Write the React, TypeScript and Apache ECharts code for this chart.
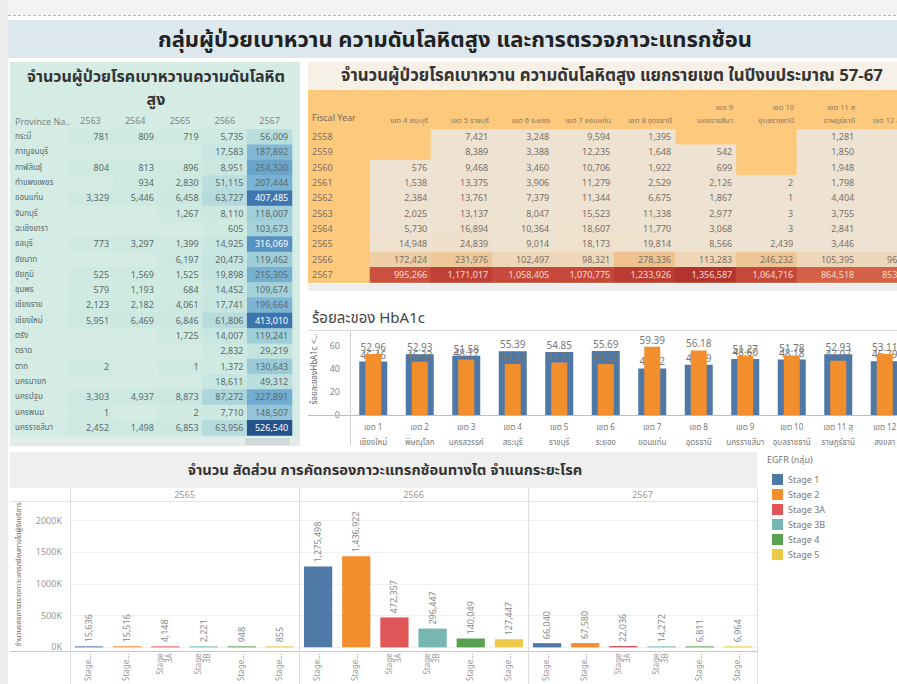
import React, { useEffect, useRef } from "react";
import * as echarts from "echarts";

const FONT = "'Noto Sans Thai', 'Noto Sans Thai UI', 'Leelawadee UI', Tahoma, 'Noto Sans', sans-serif";

// ---------- left table: patients by province ----------
const provinceNames = ["กระบี่", "กาญจนบุรี", "กาฬสินธุ์", "กำแพงเพชร", "ขอนแก่น", "จันทบุรี", "ฉะเชิงเทรา", "ชลบุรี", "ชัยนาท", "ชัยภูมิ", "ชุมพร", "เชียงราย", "เชียงใหม่", "ตรัง", "ตราด", "ตาก", "นครนายก", "นครปฐม", "นครพนม", "นครราชสีมา"];
const provinceYears = ["2563", "2564", "2565", "2566", "2567"];
const prov2563 = [781, null, 804, null, 3329, null, null, 773, null, 525, 579, 2123, 5951, null, null, 2, null, 3303, 1, 2452];
const prov2564 = [809, null, 813, 934, 5446, null, null, 3297, null, 1569, 1193, 2182, 6469, null, null, null, null, 4937, null, 1498];
const prov2565 = [719, null, 896, 2830, 6458, 1267, null, 1399, 6197, 1525, 684, 4061, 6846, 1725, null, 1, null, 8873, 2, 6853];
const prov2566 = [5735, 17583, 8951, 51115, 63727, 8110, 605, 14925, 20473, 19898, 14452, 17741, 61806, 14007, 2832, 1372, 18611, 87272, 7710, 63956];
const prov2567 = [56009, 187892, 254320, 207444, 407485, 118007, 103673, 316069, 119462, 215305, 109674, 199664, 413010, 119241, 29219, 130643, 49312, 227891, 148507, 526540];

// ---------- right table: patients by health region ----------
const fiscalYears = ["2558", "2559", "2560", "2561", "2562", "2563", "2564", "2565", "2566", "2567"];
const regionHeaders = ["เขต 4 สระบุรี", "เขต 5 ราชบุรี", "เขต 6 ระยอง", "เขต 7 ขอนแก่น", "เขต 8 อุดรธานี", "เขต 9\nนครราชสีมา", "เขต 10\nอุบลราชธานี", "เขต 11 สุ\nราษฎร์ธานี", "เขต 12 สงขลา"];
const region4 = [null, null, 576, 1538, 2384, 2025, 5730, 14948, 172424, 995266];
const region5 = [7421, 8389, 9468, 13375, 13761, 13137, 16894, 24839, 231976, 1171017];
const region6 = [3248, 3388, 3460, 3906, 7379, 8047, 10364, 9014, 102497, 1058405];
const region7 = [9594, 12235, 10706, 11279, 11344, 15523, 18607, 18173, 98321, 1070775];
const region8 = [1395, 1648, 1922, 2529, 6675, 11338, 11770, 19814, 278336, 1233926];
const region9 = [null, 542, 699, 2126, 1867, 2977, 3068, 8566, 113283, 1356587];
const region10 = [null, null, null, 2, 1, 3, 3, 2439, 246232, 1064716];
const region11 = [1281, 1850, 1948, 1798, 4404, 3755, 2841, 3446, 105395, 864518];
const region12 = [312, 405, 468, 520, 611, 702, 745, 880, 96400, 853200];

// ---------- HbA1c ----------
const hbRegions = ["เขต 1\nเชียงใหม่", "เขต 2\nพิษณุโลก", "เขต 3\nนครสวรรค์", "เขต 4\nสระบุรี", "เขต 5\nราชบุรี", "เขต 6\nระยอง", "เขต 7\nขอนแก่น", "เขต 8\nอุดรธานี", "เขต 9\nนครราชสีมา", "เขต 10\nอุบลราชธานี", "เขต 11 สุ\nราษฎร์ธานี", "เขต 12\nสงขลา"];
const hbBlue = [46.46, 52.93, 51.58, 55.39, 54.85, 55.69, 40.52, 43.69, 48.6, 48.18, 52.93, 46.79];
const hbOrange = [52.96, 46.33, 48.17, 44.33, 45.61, 44.29, 59.39, 56.18, 51.27, 51.78, 47.07, 53.11];
const hbTicks = [0, 20, 40, 60];

// ---------- kidney screening by stage ----------
const stageNames = ["Stage 1", "Stage 2", "Stage 3A", "Stage 3B", "Stage 4", "Stage 5"];
const stageTickLabels = ["Stage...", "Stage...", "Stage\n3A", "Stage\n3B", "Stage...", "Stage..."];
const stageColors = ["#4e79a7", "#f28e2b", "#e15759", "#76b7b2", "#59a14f", "#edc948"];
const facetYears = ["2565", "2566", "2567"];
const screening2565 = [15636, 15516, 4148, 2221, 948, 855];
const screening2566 = [1275498, 1436922, 472357, 296447, 140049, 127447];
const screening2567 = [66040, 67580, 22036, 14272, 6811, 6964];

const fmt = (v: number) => Number(v).toLocaleString("en-US");

function txt(text: string, x: number, y: number, size: number, opts: any = {}) {
  return {
    type: "text",
    x,
    y,
    z: 100,
    style: {
      text,
      fontSize: size,
      fontWeight: opts.bold ? "bold" : "normal",
      fontFamily: FONT,
      fill: opts.color || "#333",
      align: opts.align || "center",
      textAlign: opts.align || "center",
      verticalAlign: "middle",
      textVerticalAlign: "middle",
    },
  };
}
function rect(x: number, y: number, w: number, h: number, fill: string) {
  return { type: "rect", shape: { x, y, width: w, height: h }, style: { fill }, z: 0, silent: true };
}
function line(x1: number, y1: number, x2: number, y2: number, stroke: string, dash?: number[]) {
  return { type: "line", shape: { x1, y1, x2, y2 }, style: { stroke, lineWidth: 1, lineDash: dash }, z: 50, silent: true };
}

function buildOption() {
  const leftCols = [prov2563, prov2564, prov2565, prov2566, prov2567];
  const leftData: any[] = [];
  leftCols.forEach((col, x) =>
    col.forEach((v, y) => {
      if (v != null) leftData.push({ value: [x, y, v], label: { color: v > 290000 ? "#ffffff" : "#5b6a6a" } });
    })
  );
  const rightCols = [region4, region5, region6, region7, region8, region9, region10, region11, region12];
  const rightData: any[] = [];
  rightCols.forEach((col, x) =>
    col.forEach((v, y) => {
      if (v != null) rightData.push({ value: [x, y, v], label: { color: v > 600000 ? "#f9dccd" : "#7a7068" } });
    })
  );

  const facetData = [screening2565, screening2566, screening2567];
  const facetLeft = [70, 299, 528];
  const facetWidth = 229;

  const stageSeries: any[] = [];
  facetData.forEach((vals, f) => {
    stageNames.forEach((name, s) => {
      stageSeries.push({
        type: "bar",
        name,
        xAxisIndex: 4 + f,
        yAxisIndex: 3 + f,
        stack: "facet" + f,
        barWidth: "74%",
        barMinHeight: 1,
        itemStyle: { color: stageColors[s] },
        data: stageNames.map((_, i) => (i === s ? vals[i] : null)),
        label: {
          show: true,
          position: "top",
          rotate: 90,
          align: "left",
          verticalAlign: "middle",
          distance: 4,
          fontSize: 9,
          color: "#8a8a8a",
          fontFamily: FONT,
          formatter: (p: any) => fmt(p.value),
        },
      });
    });
  });

  const hiddenAxis = { axisLine: { show: false }, axisTick: { show: false }, splitLine: { show: false } };

  const graphic: any[] = [
    rect(0, 0, 940, 15, "#f3f3f3"),
    rect(0, 0, 8, 684, "#ececec"),
    line(8, 15.5, 940, 15.5, "#b5b5b5", [3, 2]),
    rect(8, 20, 932, 38, "#dde8ee"),
    txt("กลุ่มผู้ป่วยเบาหวาน ความดันโลหิตสูง และการตรวจภาวะแทรกซ้อน", 455, 40, 22, { bold: true, color: "#222" }),
    // left panel
    rect(10, 62, 290, 384, "#d5ece5"),
    txt("จำนวนผู้ป่วยโรคเบาหวานความดันโลหิต", 156, 77, 16, { bold: true, color: "#333" }),
    txt("สูง", 156, 100, 16, { bold: true, color: "#333" }),
    txt("Province Na..", 15, 122, 9, { align: "left", color: "#778888" }),
    rect(10, 437, 290, 9, "#e3ecea"),
    rect(245, 438, 45, 7, "#cfd9d7"),
    // right panel
    rect(308, 62, 632, 28, "#f6f0e7"),
    rect(308, 90, 632, 193, "#fdc97d"),
    txt("จำนวนผู้ป่วยโรคเบาหวาน ความดันโลหิตสูง แยกรายเขต ในปีงบประมาณ 57-67", 612, 76, 16.8, { bold: true, color: "#333" }),
    txt("Fiscal Year", 312, 118, 9, { align: "left", color: "#7a6a55" }),
    rect(308, 284, 632, 7, "#eeeeee"),
    // HbA1c
    txt("ร้อยละของ HbA1c", 312, 318, 15, { align: "left", color: "#444" }),
    line(308, 330.5, 940, 330.5, "#d9d9d9"),
    line(308, 415.5, 940, 415.5, "#bdbdbd"),
    line(350.5, 331, 350.5, 445, "#d0d0d0"),
    // bottom chart
    rect(10, 452, 747, 36, "#efefef"),
    txt("จำนวน สัดส่วน การคัดกรองภาวะแทรกซ้อนทางไต จำแนกระยะโรค", 385, 470, 14.7, { bold: true, color: "#333" }),
    line(10, 501.5, 757, 501.5, "#e2e2e2"),
    line(10, 651.5, 757, 651.5, "#c8c8c8"),
    line(70.5, 488, 70.5, 684, "#dddddd"),
    line(299.5, 488, 299.5, 684, "#dddddd"),
    line(528.5, 488, 528.5, 684, "#dddddd"),
    line(757.5, 488, 757.5, 684, "#dddddd"),
    txt("EGFR (กลุ่ม)", 767, 460, 9, { align: "left", color: "#777" }),
  ];
  facetYears.forEach((y, i) => graphic.push(txt(y, facetLeft[i] + facetWidth / 2, 495, 9, { color: "#999" })));

  return {
    animation: false,
    backgroundColor: "#ffffff",
    textStyle: { fontFamily: FONT },
    graphic,
    legend: {
      data: stageNames,
      orient: "vertical",
      left: 767,
      top: 469,
      itemWidth: 11,
      itemHeight: 11,
      itemGap: 4,
      icon: "rect",
      selectedMode: false,
      textStyle: { fontSize: 9, color: "#777", fontFamily: FONT },
    },
    visualMap: [
      {
        type: "continuous",
        seriesIndex: 0,
        min: 0,
        max: 526540,
        show: false,
        inRange: { color: ["#cfeae1", "#a5d2da", "#78b1d2", "#5592c4", "#3a72aa", "#24528a"] },
      },
      {
        type: "continuous",
        seriesIndex: 1,
        min: 0,
        max: 1356587,
        show: false,
        inRange: { color: ["#eee3d3", "#eec38f", "#e79a66", "#d6674a", "#c4463a", "#b3342e"] },
      },
    ],
    grid: [
      { left: 68, top: 129.5, width: 224, height: 306 },
      { left: 370, top: 129.5, width: 549, height: 153 },
      { left: 350, top: 323, width: 558, height: 92 },
      ...facetLeft.map((l) => ({ left: l, top: 501.5, width: facetWidth, height: 149.5 })),
    ],
    xAxis: [
      {
        type: "category",
        gridIndex: 0,
        position: "top",
        data: provinceYears,
        ...hiddenAxis,
        axisLabel: { fontSize: 9, color: "#778888", margin: 4 },
      },
      {
        type: "category",
        gridIndex: 1,
        position: "top",
        data: regionHeaders,
        ...hiddenAxis,
        axisLabel: {
          interval: 0,
          margin: 3,
          verticalAlign: "bottom",
          formatter: (v: string) => v.split("\n").map((s) => "{a|" + s + "}").join("\n"),
          rich: { a: { width: 55, align: "right", fontSize: 7.5, color: "#8a7860", lineHeight: 13, fontFamily: FONT } },
        },
      },
      {
        type: "category",
        gridIndex: 2,
        data: hbRegions,
        ...hiddenAxis,
        axisLabel: { interval: 0, fontSize: 8, color: "#777", lineHeight: 15, margin: 5 },
      },
      { type: "category", gridIndex: 2, data: hbRegions, show: false },
      ...facetLeft.map((_, f) => ({
        type: "category",
        gridIndex: 3 + f,
        data: stageNames,
        ...hiddenAxis,
        axisLabel: {
          interval: 0,
          rotate: 90,
          fontSize: 8,
          color: "#999",
          margin: 6,
          lineHeight: 9,
          formatter: (_v: string, i: number) => stageTickLabels[i],
        },
      })),
    ],
    yAxis: [
      {
        type: "category",
        gridIndex: 0,
        inverse: true,
        data: provinceNames,
        ...hiddenAxis,
        axisLabel: { align: "left", margin: 53, fontSize: 8, color: "#56696a" },
      },
      {
        type: "category",
        gridIndex: 1,
        inverse: true,
        data: fiscalYears,
        ...hiddenAxis,
        axisLabel: { align: "left", margin: 58, fontSize: 9, color: "#7a7068" },
      },
      {
        type: "value",
        gridIndex: 2,
        min: hbTicks[0],
        max: 80,
        interval: 20,
        ...hiddenAxis,
        name: "ร้อยละของHbA1c <…",
        nameLocation: "middle",
        nameGap: 28,
        nameTextStyle: { fontSize: 8, color: "#666" },
        axisLabel: { fontSize: 9, color: "#888", margin: 10, showMaxLabel: false },
      },
      ...facetLeft.map((_, f) => ({
        type: "value",
        gridIndex: 3 + f,
        min: 0,
        max: 2300000,
        interval: 500000,
        axisLine: { show: false },
        axisTick: { show: false },
        splitLine: { show: true, lineStyle: { color: "#f1f1f1" } },
        name: f === 0 ? "จำนวนของการตรวจภาวะแทรกซ้อนทางไตผู้รับบริการ" : "",
        nameLocation: "middle",
        nameGap: 48,
        nameTextStyle: { fontSize: 7, color: "#666" },
        axisLabel: {
          show: f === 0,
          fontSize: 9,
          color: "#999",
          margin: 8,
          showMaxLabel: false,
          formatter: (v: number) => v / 1000 + "K",
        },
      })),
    ],
    series: [
      {
        type: "heatmap",
        xAxisIndex: 0,
        yAxisIndex: 0,
        data: leftData,
        itemStyle: { borderWidth: 0 },
        label: {
          show: true,
          position: "insideRight",
          distance: 4,
          fontSize: 9,
          fontFamily: FONT,
          formatter: (p: any) => fmt(p.value[2]),
        },
      },
      {
        type: "heatmap",
        xAxisIndex: 1,
        yAxisIndex: 1,
        data: rightData,
        itemStyle: { borderWidth: 0 },
        label: {
          show: true,
          position: "insideRight",
          distance: 4,
          fontSize: 9,
          fontFamily: FONT,
          formatter: (p: any) => fmt(p.value[2]),
        },
      },
      {
        type: "bar",
        name: "HbA1c A",
        xAxisIndex: 2,
        yAxisIndex: 2,
        barWidth: 28,
        data: hbBlue,
        itemStyle: { color: "#4e79a7" },
        label: { show: true, position: "top", distance: 1, fontSize: 10, color: "#777", formatter: (p: any) => Number(p.value).toFixed(2) },
      },
      {
        type: "bar",
        name: "HbA1c B",
        xAxisIndex: 3,
        yAxisIndex: 2,
        barWidth: 16,
        z: 3,
        data: hbOrange,
        itemStyle: { color: "#f28e2b" },
        label: { show: true, position: "top", distance: 1, fontSize: 10, color: "#777", formatter: (p: any) => Number(p.value).toFixed(2) },
      },
      ...stageSeries,
    ],
  };
}

export default function App() {
  const ref = useRef<HTMLDivElement>(null);
  useEffect(() => {
    if (!ref.current) return;
    const chart = echarts.init(ref.current, undefined, { renderer: "svg" });
    chart.setOption(buildOption() as any);
    return () => chart.dispose();
  }, []);
  return (
    <div style={{ position: "fixed", left: 0, top: 0, width: 897, height: 684, overflow: "hidden", background: "#fff" }}>
      <div ref={ref} style={{ position: "absolute", left: 0, top: 0, width: 940, height: 684 }} />
    </div>
  );
}
